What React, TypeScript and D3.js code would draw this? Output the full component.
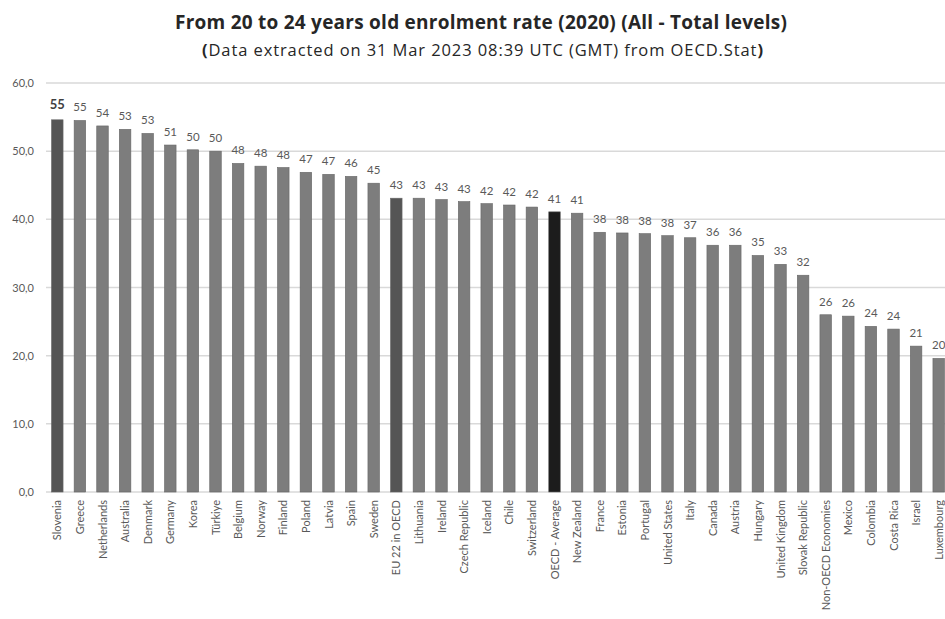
import React from "react";
import * as d3 from "d3";

const categories: string[] = [
  "Slovenia", "Greece", "Netherlands", "Australia", "Denmark", "Germany", "Korea", "Türkiye",
  "Belgium", "Norway", "Finland", "Poland", "Latvia", "Spain", "Sweden", "EU 22 in OECD",
  "Lithuania", "Ireland", "Czech Republic", "Iceland", "Chile", "Switzerland", "OECD - Average",
  "New Zealand", "France", "Estonia", "Portugal", "United States", "Italy", "Canada", "Austria",
  "Hungary", "United Kingdom", "Slovak Republic", "Non-OECD Economies", "Mexico", "Colombia",
  "Costa Rica", "Israel", "Luxembourg",
];

const values: number[] = [
  54.6, 54.5, 53.7, 53.2, 52.6, 50.9, 50.2, 50.0, 48.2, 47.8, 47.6, 46.9, 46.6, 46.3, 45.3, 43.1,
  43.1, 42.9, 42.6, 42.3, 42.1, 41.8, 41.1, 40.9, 38.1, 38.0, 37.9, 37.6, 37.3, 36.2, 36.2, 34.7,
  33.4, 31.8, 26.0, 25.8, 24.3, 23.9, 21.4, 19.6,
];

const yTicks: number[] = [0, 10, 20, 30, 40, 50, 60];

const titleText = "From 20 to 24 years old enrolment rate (2020) (All - Total levels)";
const subtitleText = "Data extracted on 31 Mar 2023 08:39 UTC (GMT) from OECD.Stat";

const W = 945;
const H = 619;
const FONT = "Lato, 'Open Sans', 'DejaVu Sans', sans-serif";
const TITLE_FONT = "'Open Sans', Lato, 'DejaVu Sans', sans-serif";

function barColor(name: string): string {
  if (name === "OECD - Average") return "#1c1c1c";
  if (name === "Slovenia" || name === "EU 22 in OECD") return "#555555";
  return "#7d7d7d";
}

export default function App() {
  const x = d3
    .scaleBand<string>()
    .domain(categories)
    .range([46, 950])
    .paddingInner(0.49)
    .paddingOuter(0.245);
  const y = d3.scaleLinear().domain([0, 60]).range([492, 83]);
  const fmtTick = (v: number) => d3.format(".1f")(v).replace(".", ",");

  return (
    <svg
      width={W}
      height={H}
      style={{ position: "absolute", left: 0, top: 0, background: "#ffffff" }}
      fontFamily={FONT}
    >
      <rect x={0} y={0} width={W} height={H} fill="#ffffff" />
      <text
        x={175}
        y={29}
        fontFamily={TITLE_FONT}
        fontSize={19}
        fontWeight="bold"
        fill="#262626"
        textLength={612}
        lengthAdjust="spacing"
      >
        {titleText}
      </text>
      <text
        x={202}
        y={56}
        fontFamily={TITLE_FONT}
        fontSize={16.5}
        fill="#262626"
        textLength={561}
        lengthAdjust="spacing"
      >
        <tspan fontWeight="bold">(</tspan>
        {subtitleText}
        <tspan fontWeight="bold">)</tspan>
      </text>

      {yTicks.map((t) => (
        <g key={t}>
          <line x1={46} x2={W} y1={y(t)} y2={y(t)} stroke="#d9d9d9" strokeWidth={1.5} />
          <text x={34} y={y(t) + 4} textAnchor="end" fontSize={11} fill="#595959">
            {fmtTick(t)}
          </text>
        </g>
      ))}

      {categories.map((c, i) => {
        const v = values[i];
        const bx = x(c) as number;
        const bw = x.bandwidth();
        const cx = bx + bw / 2;
        const first = i === 0;
        return (
          <g key={c}>
            <rect
              x={bx}
              y={y(v)}
              width={bw}
              height={y(0) - y(v)}
              fill={barColor(c)}
              stroke="#666666"
              strokeWidth={0.6}
            />
            <text
              x={cx}
              y={y(v) - (first ? 11 : 9)}
              textAnchor="middle"
              fontSize={first ? 13 : 11.5}
              fontWeight={first ? "bold" : "normal"}
              fill={first ? "#404040" : "#595959"}
            >
              {d3.format(".0f")(Math.round(v))}
            </text>
            <text
              transform={`translate(${cx + 4},${500}) rotate(-90)`}
              textAnchor="end"
              fontSize={11}
              fill="#595959"
            >
              {c}
            </text>
          </g>
        );
      })}
    </svg>
  );
}
